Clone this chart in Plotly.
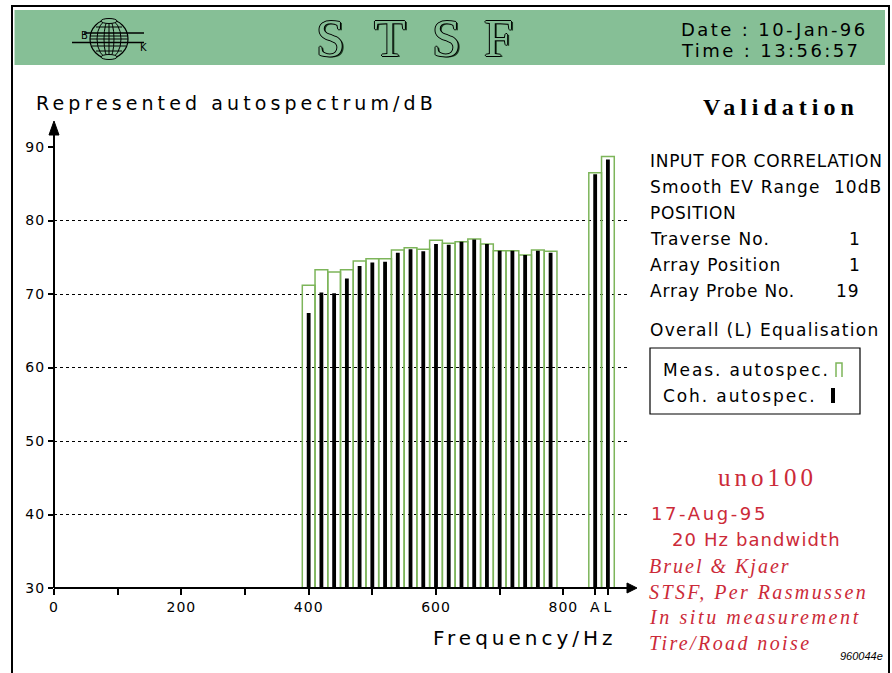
import plotly.graph_objects as go

# ---------------- data ----------------
band_centres_hz = [400, 420, 440, 460, 480, 500, 520, 540, 560, 580,
                   600, 620, 640, 660, 680, 700, 720, 740, 760, 780, 850, 870]
meas_autospec_db = [71.2, 73.3, 73.0, 73.3, 74.5, 74.8, 74.8, 76.0, 76.3, 76.1,
                    77.3, 76.9, 77.1, 77.5, 76.8, 75.9, 75.9, 75.3, 76.0, 75.8, 86.5, 88.7]
coh_autospec_db = [67.4, 70.2, 70.1, 72.1, 73.8, 74.3, 74.4, 75.6, 76.1, 75.8,
                   76.8, 76.7, 77.1, 77.4, 76.8, 75.9, 75.9, 75.3, 75.9, 75.6, 86.3, 88.3]
x_tick_values = [0, 100, 200, 300, 400, 500, 600, 700, 800, 850, 870]
x_tick_labels = ["0", "", "200", "", "400", "", "600", "", "800", "A", "L"]
y_tick_values = [30, 40, 50, 60, 70, 80, 90]
y_tick_labels = ["30", "40", "50", "60", "70", "80", "90"]

# ---------------- styling ----------------
W, H = 892, 673
PL, PR, PT, PB = 54, 627, 147, 588
SANS = "DejaVu Sans"
SERIF = "Liberation Serif"
GREEN_BAND = "#86bf96"
GREEN_BAR = "#7db55a"
RED = "#cc2a38"
TW = 400  # text weight


def px(x):
    return (x - PL) / (PR - PL)


def py(y):
    return (PB - y) / (PB - PT)


def sp(s, ls):
    return f'<span style="letter-spacing:{ls}px">{s}</span>' if ls else s


fig = go.Figure()
fig.add_bar(x=band_centres_hz, y=meas_autospec_db, width=20,
            marker=dict(color="rgba(255,255,255,0)", line=dict(color=GREEN_BAR, width=1.5)),
            name="Meas. autospec.")
fig.add_bar(x=band_centres_hz, y=coh_autospec_db, width=6,
            marker=dict(color="black", line=dict(width=0)),
            name="Coh. autospec.")

fig.update_layout(
    width=W, height=H,
    margin=dict(l=PL, r=W - PR, t=PT, b=H - PB, pad=0, autoexpand=False),
    barmode="overlay", showlegend=False,
    plot_bgcolor="white", paper_bgcolor="white",
    font=dict(family=SANS, color="black"),
)
fig.update_xaxes(
    range=[0, 900], tickmode="array", tickvals=x_tick_values,
    ticktext=[sp(t, 1) for t in x_tick_labels],
    ticks="outside", ticklen=6, tickwidth=1.5, tickcolor="black",
    showgrid=False, zeroline=False, showline=False,
    tickfont=dict(family=SANS, size=14, color="black", weight=TW), fixedrange=True,
)
fig.update_yaxes(
    range=[30, 90], tickmode="array", tickvals=y_tick_values,
    ticktext=[sp(t, 1) for t in y_tick_labels],
    ticks="outside", ticklen=5, tickwidth=1.5, tickcolor="black",
    showgrid=True, gridcolor="black", griddash="dot", gridwidth=1,
    zeroline=False, showline=False,
    tickfont=dict(family=SANS, size=14, color="black", weight=TW), fixedrange=True,
)

shapes = []


def line(x0, y0, x1, y1, color="black", width=2):
    shapes.append(dict(type="line", xref="paper", yref="paper",
                       x0=px(x0), y0=py(y0), x1=px(x1), y1=py(y1),
                       line=dict(color=color, width=width)))


def path(points, fill=None, color="black", width=1, closed=True):
    d = "M " + " L ".join(f"{px(a):.5f},{py(b):.5f}" for a, b in points)
    if closed:
        d += " Z"
    shapes.append(dict(type="path", xref="paper", yref="paper", path=d,
                       fillcolor=fill if fill else "rgba(0,0,0,0)",
                       line=dict(color=color, width=width)))


def rect(x0, y0, x1, y1, fill=None, color="black", width=1):
    shapes.append(dict(type="rect", xref="paper", yref="paper",
                       x0=px(x0), y0=py(y0), x1=px(x1), y1=py(y1),
                       fillcolor=fill if fill else "rgba(0,0,0,0)",
                       line=dict(color=color, width=width)))


def ellipse(cx, cy, rx, ry, color="black", width=1, fill=None):
    shapes.append(dict(type="circle", xref="paper", yref="paper",
                       x0=px(cx - rx), y0=py(cy - ry), x1=px(cx + rx), y1=py(cy + ry),
                       fillcolor=fill if fill else "rgba(0,0,0,0)",
                       line=dict(color=color, width=width)))


# header band and page frame
rect(14.5, 10, 885, 65, fill=GREEN_BAND, color=GREEN_BAND, width=0)
line(12, 5, 12, 673)
line(11, 6, 890, 6)
line(889, 5, 889, 673)

# logo (globe)
ellipse(109, 39, 19, 19.5, width=1.2)
ellipse(109, 39, 12, 19.5, width=1)
ellipse(109, 39, 5, 19.5, width=1)
line(109, 19.5, 109, 58.5, width=1)
ellipse(109, 21, 8, 2.5, width=1, fill=GREEN_BAND)
ellipse(109, 57, 8, 2.5, width=1, fill=GREEN_BAND)
line(84, 33, 144, 33, width=1.5)
line(90, 36, 128, 36, width=1)
line(90, 39, 128, 39, width=1)
line(72, 42.5, 144, 42.5, width=1.5)
line(92, 46, 126, 46, width=1)
line(96, 27, 122, 27, width=1)
line(96, 51, 122, 51, width=1)

# axes with arrows
line(PL, PB, PL, 134, width=2)
path([(PL, 121), (PL - 5, 135), (PL + 5, 135)], fill="black", width=1)
line(PL, PB, 628, PB, width=2)
path([(637, PB), (627, PB - 5), (627, PB + 5)], fill="black", width=1)

# legend box
rect(650, 348, 860, 414, color="black", width=1.2)
path([(836, 377), (836, 363), (842, 363), (842, 377)], color=GREEN_BAR, width=1.5, closed=False)
rect(831, 388, 835, 403, fill="black", color="black", width=0)

fig.update_layout(shapes=shapes)


def text(x, y, s, size=17, color="black", family=SANS, xanchor="left", ls=0,
         weight=TW, style="normal", shadow=None):
    f = dict(family=family, size=size, color=color, weight=weight, style=style)
    if shadow:
        f["shadow"] = shadow
    fig.add_annotation(x=px(x), y=py(y), xref="paper", yref="paper",
                       text=sp(s, ls), showarrow=False, xanchor=xanchor,
                       yanchor="middle", font=f, borderpad=0)


# header texts
outline = ("1px 0 0 #000, -1px 0 0 #000, 0 1px 0 #000, 0 -1px 0 #000, "
           "2px 1px 0 #1c3a22")
for ch, cx in zip(["S", "T", "S", "F"], [330, 390, 446, 498]):
    text(cx, 39, ch, size=52, color=GREEN_BAND, family=SERIF, xanchor="center",
         weight=400, shadow=outline)
text(80, 36, "B", size=10, weight=400)
text(139, 47, "K", size=10, weight=400)
text(680, 29, "Date : 10-Jan-96", size=18, ls=2.4)
text(680, 51, "Time : 13:56:57", size=18, ls=2.4)

# axis titles
text(35, 103, "Represented autospectrum/dB", size=19, ls=4.1)
text(432, 638, "Frequency/Hz", size=20, ls=4.0)
text(781, 107, "Validation", size=24, family=SERIF, weight=700, xanchor="center", ls=5)

# right panel
text(649, 161, "INPUT FOR CORRELATION", size=17, ls=0.7)
text(649, 187, "Smooth EV Range", size=17, ls=1.2)
text(883, 187, "10dB", size=17, ls=1.0, xanchor="right")
text(649, 213, "POSITION", size=17, ls=0.7)
text(649, 239, "Traverse No.", size=17, ls=1.1)
text(861, 239, "1", size=17, xanchor="right")
text(649, 265, "Array Position", size=17, ls=1.0)
text(861, 265, "1", size=17, xanchor="right")
text(649, 291, "Array Probe No.", size=17, ls=0.8)
text(861, 291, "19", size=17, ls=1.0, xanchor="right")
text(649, 330, "Overall (L) Equalisation", size=17, ls=1.3)
text(662, 370, "Meas. autospec.", size=17, ls=1.9)
text(662, 396, "Coh. autospec.", size=17, ls=1.9)

# red annotations
text(767, 477, "uno100", size=25, family=SERIF, color=RED, xanchor="center", ls=4, weight=400)
text(650, 513, "17-Aug-95", size=18, color=RED, ls=2.6)
text(671, 539, "20 Hz bandwidth", size=18, color=RED, ls=1.1)
text(648, 566, "Bruel &amp; Kjaer", size=20, family=SERIF, color=RED, ls=2.0, style="italic", weight=400)
text(648, 592, "STSF, Per Rasmussen", size=20, family=SERIF, color=RED, ls=2.4, style="italic", weight=400)
text(648, 617, "In situ measurement", size=20, family=SERIF, color=RED, ls=2.6, style="italic", weight=400)
text(648, 643, "Tire/Road noise", size=20, family=SERIF, color=RED, ls=2.4, style="italic", weight=400)
text(884, 656, "960044e", size=11, family="Liberation Sans", xanchor="right", style="italic", weight=400)

fig.write_html("out.html", include_plotlyjs=True, full_html=True,
               config={"displayModeBar": False},
               post_script="document.body.style.margin='0';document.body.style.overflow='hidden';")
